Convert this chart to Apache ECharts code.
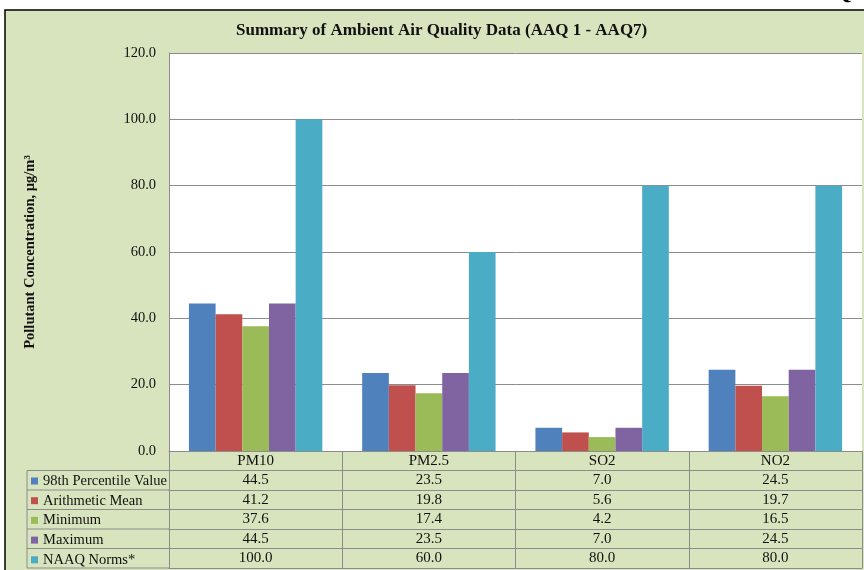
<!DOCTYPE html>
<html>
<head>
<meta charset="utf-8">
<script src="https://cdn.jsdelivr.net/npm/echarts@6/dist/echarts.min.js"></script>
<style>
  html, body { margin: 0; padding: 0; background: #fff; }
  #chart { width: 864px; height: 570px; }
</style>
</head>
<body>
<div id="chart"></div>
<script>
// data
var categories = ['PM10', 'PM2.5', 'SO2', 'NO2'];
var seriesNames = ['98th Percentile Value', 'Arithmetic Mean', 'Minimum', 'Maximum', 'NAAQ Norms*'];
var p98 = [44.5, 23.5, 7.0, 24.5];
var arithMean = [41.2, 19.8, 5.6, 19.7];
var minimum = [37.6, 17.4, 4.2, 16.5];
var maximum = [44.5, 23.5, 7.0, 24.5];
var naaqNorms = [100.0, 60.0, 80.0, 80.0];
var yMin = 0, yMax = 120, yStep = 20;

var allValues = [p98, arithMean, minimum, maximum, naaqNorms];
var colors = ['#4F81BD', '#C0504D', '#9BBB59', '#8064A2', '#4BACC6'];
var font = 'Liberation Serif';
var lineGray = '#8c8c8c';
var bg = '#D7E4BD';

var gridL = 169, gridT = 53, gridR = 2, gridB = 119;
var rowH = 19.5;
var axisTop = 570 - gridB;      // y of the 0 line
var colLeft = 27;               // left edge of the legend column

var chart = echarts.init(document.getElementById('chart'));

// table rows are extra category axes stacked under the plot
function tableAxis(k) {
  var values = k > 0 && k <= allValues.length ? allValues[k - 1] : null;
  return {
    type: 'category',
    data: categories,
    position: 'bottom',
    offset: k * rowH,
    axisLine: { show: true, lineStyle: { color: lineGray, width: 1 } },
    axisTick: { show: k <= allValues.length, length: rowH, interval: 0, lineStyle: { color: lineGray } },
    axisLabel: {
      show: k <= allValues.length,
      interval: 0,
      margin: rowH / 2,
      verticalAlign: 'middle',
      fontFamily: font,
      fontSize: 15,
      color: '#111',
      formatter: function (v, i) {
        return values ? values[i].toFixed(1) : v;
      }
    },
    splitLine: { show: false }
  };
}

var xAxes = [];
for (var k = 0; k <= allValues.length + 1; k++) {
  xAxes.push(tableAxis(k));
}

var series = [];
for (var s = 0; s < allValues.length; s++) {
  series.push({
    name: seriesNames[s],
    type: 'bar',
    xAxisIndex: 0,
    data: allValues[s],
    barGap: '0%',
    barCategoryGap: '23%',
    itemStyle: { color: colors[s] }
  });
}

// frame, and lines of the legend column on the left of the table
var graphics = [
  { type: 'rect', z: -10, shape: { x: 5, y: 10, width: 880, height: 580 },
    style: { fill: bg, stroke: '#000', lineWidth: 1.5 } },
  { type: 'text', left: 833, top: -19, z: 10,
    style: { text: 'Q', font: 'bold 24px "Liberation Serif"', fill: '#000' } }
];
var nRows = allValues.length;
for (var r = 0; r <= nRows; r++) {
  var y = axisTop + rowH * (r + 1);
  graphics.push({ type: 'line', z: 10, shape: { x1: colLeft, y1: y, x2: gridL, y2: y },
    style: { stroke: lineGray, lineWidth: 1 } });
}
graphics.push({ type: 'line', z: 10,
  shape: { x1: colLeft, y1: axisTop + rowH, x2: colLeft, y2: axisTop + rowH * (nRows + 1) },
  style: { stroke: lineGray, lineWidth: 1 } });

var option = {
  backgroundColor: '#fff',
  animation: false,
  title: {
    text: 'Summary of Ambient Air Quality Data (AAQ 1 - AAQ7)',
    left: 236,
    top: 22,
    padding: 0,
    textStyle: { fontFamily: font, fontSize: 17, fontWeight: 'bold', color: '#111' }
  },
  legend: {
    orient: 'vertical',
    left: colLeft + 4,
    top: axisTop + rowH + 3,
    height: 110,
    padding: 0,
    itemWidth: 7,
    itemHeight: 7,
    itemGap: 4.7,
    icon: 'rect',
    selectedMode: false,
    textStyle: { fontFamily: font, fontSize: 14.5, color: '#111' },
    data: seriesNames
  },
  grid: {
    left: gridL, top: gridT, right: gridR, bottom: gridB,
    show: true, backgroundColor: '#fff', borderWidth: 0
  },
  xAxis: xAxes,
  yAxis: {
    type: 'value',
    min: yMin,
    max: yMax,
    interval: yStep,
    name: 'Pollutant Concentration, µg/m³',
    nameLocation: 'middle',
    nameGap: 131,
    nameTextStyle: { fontFamily: font, fontSize: 14.5, fontWeight: 'bold', color: '#111' },
    axisLine: { show: true, lineStyle: { color: lineGray } },
    axisTick: { show: false },
    axisLabel: {
      margin: 13,
      fontFamily: font,
      fontSize: 14.5,
      color: '#111',
      formatter: function (v) { return v.toFixed(1); }
    },
    splitLine: { lineStyle: { color: lineGray, width: 1 } }
  },
  graphic: graphics,
  series: series
};

chart.setOption(option);
</script>
</body>
</html>
